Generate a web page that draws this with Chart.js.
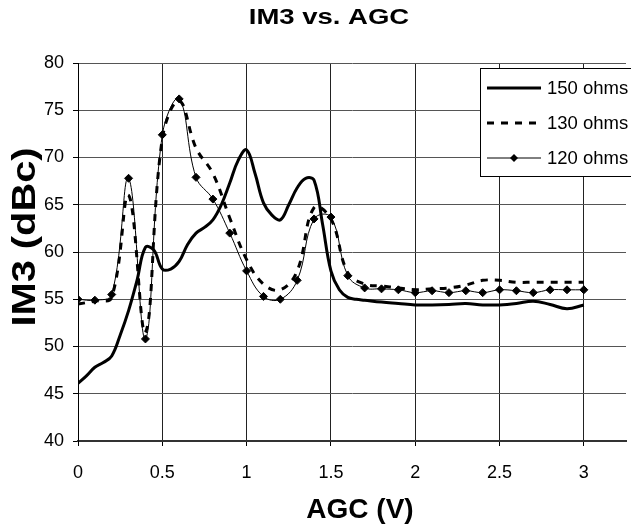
<!DOCTYPE html>
<html>
<head>
<meta charset="utf-8">
<script src="https://cdn.jsdelivr.net/npm/chart.js@4"></script>
<style>
  html, body { margin: 0; padding: 0; background: #fff; }
  #wrap { width: 631px; height: 531px; }
</style>
</head>
<body>
<div id="wrap"><canvas id="im3-chart" width="631" height="531"></canvas></div>
<script>
// AGC sweep (V) and measured IM3 (dBc)
const agcCoarse = [0, 0.1, 0.2, 0.3, 0.4, 0.5, 0.6, 0.7, 0.8, 0.9, 1.0, 1.1, 1.2, 1.3, 1.4, 1.5,
  1.6, 1.7, 1.8, 1.9, 2.0, 2.1, 2.2, 2.3, 2.4, 2.5, 2.6, 2.7, 2.8, 2.9, 3.0];
const im3_120 = [55.0, 54.9, 55.5, 67.8, 50.8, 72.4, 76.2, 67.9, 65.6, 62.0, 58.0, 55.3, 55.0, 57.0, 63.5, 63.7,
  57.5, 56.2, 56.1, 56.0, 55.7, 55.9, 55.7, 55.9, 55.7, 56.0, 55.9, 55.7, 56.0, 56.0, 56.0];
const im3_130 = [54.5, 54.8, 55.2, 66.0, 51.5, 72.0, 76.0, 71.0, 68.3, 63.6, 59.2, 56.6, 56.0, 58.0, 64.7, 63.5,
  57.8, 56.6, 56.4, 56.2, 56.0, 56.1, 56.2, 56.5, 57.0, 57.0, 56.8, 56.8, 56.8, 56.8, 56.8];

const agcFine = [0, 0.05, 0.1, 0.15, 0.2, 0.25, 0.3, 0.35, 0.4, 0.45, 0.5, 0.55, 0.6, 0.65, 0.7, 0.75,
  0.8, 0.85, 0.9, 0.95, 1.0, 1.05, 1.1, 1.15, 1.2, 1.25, 1.3, 1.35, 1.4, 1.45, 1.5, 1.55, 1.6, 1.65, 1.7,
  1.8, 1.9, 2.0, 2.1, 2.2, 2.3, 2.4, 2.5, 2.6, 2.7, 2.8, 2.9, 3.0];
const im3_150 = [46.1, 46.9, 47.8, 48.3, 49.0, 51.2, 53.8, 57.0, 60.5, 60.2, 58.2, 58.2, 59.0, 60.8, 62.0, 62.6,
  63.4, 65.0, 67.3, 69.7, 70.8, 68.3, 65.2, 63.9, 63.4, 65.0, 66.8, 67.8, 67.6, 63.0, 58.0, 56.0, 55.2, 55.0, 54.9,
  54.7, 54.55, 54.4, 54.4, 54.45, 54.55, 54.4, 54.4, 54.55, 54.8, 54.45, 54.0, 54.4];

const seriesNames = ['150 ohms', '130 ohms', '120 ohms'];
const xTicks = [0, 0.5, 1, 1.5, 2, 2.5, 3];
const yTicks = [40, 45, 50, 55, 60, 65, 70, 75, 80];

const FONT = '"Liberation Sans", Arial, sans-serif';

function pairs(xs, ys) {
  return xs.map((x, i) => ({ x: x, y: ys[i] }));
}

// titles and the boxed legend are drawn by hand
const decorations = {
  id: 'decorations',
  afterDraw(chart) {
    const ctx = chart.ctx;
    ctx.save();
    ctx.fillStyle = '#000';
    ctx.textAlign = 'center';
    ctx.textBaseline = 'middle';

    // main title
    ctx.save();
    ctx.translate(329, 18);
    ctx.scale(1.25, 1);
    ctx.font = 'bold 22px ' + FONT;
    ctx.fillText('IM3 vs. AGC', 0, 0);
    ctx.restore();

    // y title
    ctx.save();
    ctx.translate(26, 237);
    ctx.rotate(-Math.PI / 2);
    ctx.scale(1.17, 1);
    ctx.font = 'bold 34px ' + FONT;
    ctx.fillText('IM3 (dBc)', 0, 0);
    ctx.restore();

    // x title
    ctx.font = 'bold 28px ' + FONT;
    ctx.fillText('AGC (V)', 360, 510);

    // legend
    ctx.fillStyle = '#fff';
    ctx.strokeStyle = '#000';
    ctx.lineWidth = 1;
    ctx.fillRect(480.5, 68.5, 160, 108);
    ctx.strokeRect(480.5, 68.5, 160, 108);
    ctx.textAlign = 'left';
    ctx.font = '18.5px ' + FONT;
    chart.data.datasets.forEach((ds, i) => {
      const y = 88 + i * 35;
      ctx.beginPath();
      ctx.setLineDash(ds.borderDash || []);
      ctx.lineWidth = ds.borderWidth;
      ctx.strokeStyle = '#000';
      ctx.moveTo(487, y);
      ctx.lineTo(541, y);
      ctx.stroke();
      ctx.setLineDash([]);
      if (ds.pointRadius) {
        const r = ds.pointRadius;
        ctx.beginPath();
        ctx.moveTo(514, y - r);
        ctx.lineTo(514 + r, y);
        ctx.lineTo(514, y + r);
        ctx.lineTo(514 - r, y);
        ctx.closePath();
        ctx.fillStyle = '#000';
        ctx.fill();
      }
      ctx.fillStyle = '#000';
      ctx.fillText(ds.label, 547, y + 1);
    });
    ctx.restore();
  }
};

const ctx = document.getElementById('im3-chart').getContext('2d');
const im3Chart = new Chart(ctx, {
  type: 'line',
  data: {
    datasets: [
      {
        label: seriesNames[0],
        data: pairs(agcFine, im3_150),
        borderColor: '#000',
        borderWidth: 3,
        pointRadius: 0,
        tension: 0.4,
        fill: false
      },
      {
        label: seriesNames[1],
        data: pairs(agcCoarse, im3_130),
        borderColor: '#000',
        borderWidth: 3,
        borderDash: [7, 7],
        pointRadius: 0,
        tension: 0.4,
        fill: false
      },
      {
        label: seriesNames[2],
        data: pairs(agcCoarse, im3_120),
        borderColor: '#000',
        borderWidth: 1,
        pointRadius: 4,
        pointStyle: 'rectRot',
        pointBackgroundColor: '#000',
        pointBorderColor: '#000',
        pointBorderWidth: 1,
        tension: 0.4,
        fill: false
      }
    ]
  },
  options: {
    responsive: false,
    animation: false,
    events: [],
    layout: { padding: { top: 63, left: 0, right: 0, bottom: 0 } },
    plugins: {
      legend: { display: false },
      title: { display: false },
      tooltip: { enabled: false }
    },
    scales: {
      x: {
        type: 'linear',
        min: 0,
        max: 3.25,
        afterFit: (scale) => { scale.height = 90; },
        afterBuildTicks: (scale) => { scale.ticks = xTicks.map(v => ({ value: v })); },
        ticks: {
          color: '#000',
          padding: 16,
          font: { family: FONT, size: 18 },
          maxRotation: 0,
          callback: (v) => String(v)
        },
        grid: { color: '#222', lineWidth: 1, tickLength: 5, tickColor: '#000' },
        border: { color: '#333', width: 2 }
      },
      y: {
        min: 40,
        max: 80,
        afterFit: (scale) => { scale.width = 78; },
        afterBuildTicks: (scale) => { scale.ticks = yTicks.map(v => ({ value: v })); },
        ticks: {
          color: '#000',
          padding: 9,
          font: { family: FONT, size: 18 },
          callback: (v) => String(v)
        },
        grid: { color: '#555', lineWidth: 1, tickLength: 5, tickColor: '#000' },
        border: { color: '#000', width: 1 }
      }
    }
  },
  plugins: [decorations]
});
</script>
</body>
</html>
